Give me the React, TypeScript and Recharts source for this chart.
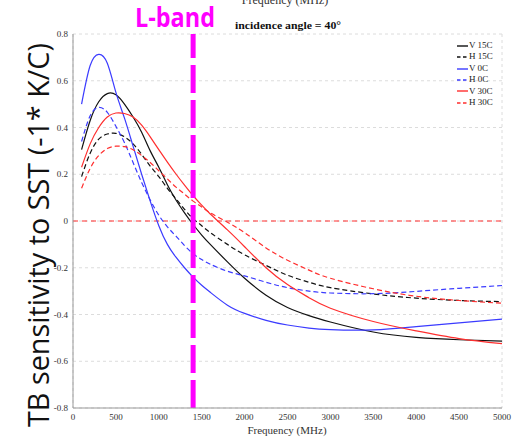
import React from 'react';
import { LineChart, Line, XAxis, YAxis, CartesianGrid, ReferenceLine } from 'recharts';

// Frequency (MHz)
const freq = [100, 200, 300, 400, 500, 600, 700, 800, 900, 1000, 1100, 1200, 1300, 1400, 1500, 1600, 1800, 2000, 2250, 2500, 2750, 3000, 3500, 4000, 4500, 5000];
// V pol 15C
const v15 = [0.305, 0.43, 0.51, 0.545, 0.54, 0.5, 0.445, 0.38, 0.3, 0.23, 0.155, 0.09, 0.035, -0.015, -0.06, -0.1, -0.175, -0.245, -0.318, -0.37, -0.405, -0.432, -0.475, -0.498, -0.508, -0.514];
// H pol 15C
const h15 = [0.19, 0.29, 0.35, 0.372, 0.375, 0.36, 0.33, 0.285, 0.235, 0.19, 0.14, 0.095, 0.05, 0.01, -0.02, -0.05, -0.1, -0.145, -0.19, -0.232, -0.262, -0.285, -0.312, -0.33, -0.34, -0.345];
// V pol 0C
const v0 = [0.5, 0.665, 0.713, 0.675, 0.55, 0.44, 0.32, 0.2, 0.085, -0.02, -0.1, -0.155, -0.2, -0.24, -0.275, -0.305, -0.36, -0.395, -0.425, -0.445, -0.458, -0.465, -0.466, -0.452, -0.436, -0.42];
// H pol 0C
const h0 = [0.34, 0.45, 0.486, 0.465, 0.405, 0.335, 0.25, 0.165, 0.09, 0.025, -0.025, -0.065, -0.105, -0.14, -0.165, -0.185, -0.215, -0.235, -0.262, -0.285, -0.3, -0.308, -0.311, -0.301, -0.288, -0.276];
// V pol 30C
const v30 = [0.23, 0.33, 0.4, 0.445, 0.462, 0.46, 0.445, 0.41, 0.36, 0.305, 0.252, 0.201, 0.153, 0.108, 0.068, 0.03, -0.038, -0.11, -0.2, -0.272, -0.328, -0.373, -0.43, -0.47, -0.503, -0.525];
// H pol 30C
const h30 = [0.14, 0.225, 0.28, 0.31, 0.32, 0.318, 0.305, 0.28, 0.25, 0.215, 0.18, 0.145, 0.115, 0.085, 0.06, 0.035, -0.005, -0.05, -0.115, -0.168, -0.21, -0.245, -0.29, -0.322, -0.34, -0.352];

const xTicks = [0, 500, 1000, 1500, 2000, 2500, 3000, 3500, 4000, 4500, 5000];
const yTicks = [-0.8, -0.6, -0.4, -0.2, 0, 0.2, 0.4, 0.6, 0.8];
const xMinorTicks = Array.from({ length: 51 }, (_, i) => i * 100);
const yMinorTicks = Array.from({ length: 33 }, (_, i) => Math.round((-0.8 + i * 0.05) * 100) / 100);
const lBandFreq = 1400;

const BLACK = '#111111';
const BLUE = '#3b3bff';
const RED = '#ff2e2e';

const series = [
  { key: 'v15', name: 'V 15C', color: BLACK, dash: undefined as string | undefined },
  { key: 'h15', name: 'H 15C', color: BLACK, dash: '5 3' },
  { key: 'v0', name: 'V 0C', color: BLUE, dash: undefined },
  { key: 'h0', name: 'H 0C', color: BLUE, dash: '5 3' },
  { key: 'v30', name: 'V 30C', color: RED, dash: undefined },
  { key: 'h30', name: 'H 30C', color: RED, dash: '5 3' },
];

const data = freq.map((f, i) => ({ f, v15: v15[i], h15: h15[i], v0: v0[i], h0: h0[i], v30: v30[i], h30: h30[i] }));

const SERIF = '"Liberation Serif", "Times New Roman", serif';
const tickStyle = { fontFamily: SERIF, fontSize: 9, fill: '#333' };

const LegendBox = () => (
  <div style={{ position: 'absolute', left: 457, top: 40, fontFamily: SERIF, fontSize: 9, lineHeight: '11.4px', color: '#222', pointerEvents: 'none' }}>
    {series.map((s) => (
      <div key={s.key} style={{ display: 'flex', alignItems: 'center', whiteSpace: 'nowrap' }}>
        <svg width={11} height={6} style={{ marginRight: 1 }}>
          <line x1={0} y1={3} x2={11} y2={3} stroke={s.color} strokeWidth={1.4} strokeDasharray={s.dash ? '3.5 2.5' : undefined} />
        </svg>
        <span>{s.name}</span>
      </div>
    ))}
  </div>
);

export default function App() {
  return (
    <div style={{ position: 'absolute', left: 0, top: 0, width: 512, height: 439, background: '#fff' }}>
      <LineChart width={512} height={439} data={data} margin={{ top: 34, right: 10, left: 0, bottom: 0 }}>
        <CartesianGrid xAxisId="mb" yAxisId={0} stroke="#dcdcdc" strokeDasharray="3 3" />
        <XAxis xAxisId="mb" type="number" dataKey="f" domain={[0, 5000]} allowDataOverflow ticks={xMinorTicks} orientation="bottom" mirror height={0} tick={false} axisLine={false} tickSize={3} tickLine={{ stroke: '#999' }} />
        <XAxis xAxisId="mt" type="number" dataKey="f" domain={[0, 5000]} allowDataOverflow ticks={xMinorTicks} orientation="top" mirror height={0} tick={false} axisLine={{ stroke: '#999' }} tickSize={3} tickLine={{ stroke: '#999' }} />
        <YAxis yAxisId="ml" type="number" domain={[-0.8, 0.8]} allowDataOverflow ticks={yMinorTicks} orientation="left" mirror width={0} tick={false} axisLine={false} tickSize={3} tickLine={{ stroke: '#999' }} />
        <YAxis yAxisId="mr" type="number" domain={[-0.8, 0.8]} allowDataOverflow ticks={yMinorTicks} orientation="right" mirror width={0} tick={false} axisLine={{ stroke: '#999' }} tickSize={3} tickLine={{ stroke: '#999' }} />
        <XAxis type="number" dataKey="f" domain={[0, 5000]} allowDataOverflow ticks={xTicks} height={31} tick={tickStyle} tickLine={false} tickSize={3} tickMargin={3} axisLine={{ stroke: '#999' }} />
        <YAxis type="number" domain={[-0.8, 0.8]} allowDataOverflow ticks={yTicks} width={73} tick={tickStyle} tickLine={false} tickSize={3} tickMargin={2} axisLine={{ stroke: '#999' }} tickFormatter={(v: number) => String(Math.round(v * 10) / 10)} />
        <ReferenceLine y={0} stroke={RED} strokeWidth={1.2} strokeDasharray="5 4" />
        {series.map((s) => (
          <Line key={s.key} type="natural" dataKey={s.key} name={s.name} stroke={s.color} strokeWidth={1.2} strokeDasharray={s.dash} dot={false} isAnimationActive={false} />
        ))}
        <ReferenceLine x={lBandFreq} stroke="#ff00ff" strokeWidth={5} strokeDasharray="28 7" />
      </LineChart>
      <LegendBox />
      <svg width={512} height={439} style={{ position: 'absolute', left: 0, top: 0, pointerEvents: 'none' }}>
        <text x={285} y={4} textAnchor="middle" fontFamily={SERIF} fontSize={12} fill="#333">Frequency (MHz)</text>
        <text x={135} y={27} fontFamily='"Open Sans", sans-serif' fontWeight="bold" fontSize={26} fill="#ff00ff" textLength={80} lengthAdjust="spacingAndGlyphs">L-band</text>
        <text x={235} y={29} fontFamily={SERIF} fontWeight="bold" fontSize={10.5} fill="#111" textLength={106} lengthAdjust="spacingAndGlyphs">incidence angle = 40°</text>
        <text transform="translate(49,235) rotate(-90)" textAnchor="middle" fontFamily='"Open Sans", sans-serif' fontSize={30} fill="#111" textLength={384} lengthAdjust="spacingAndGlyphs">TB sensitivity to SST (-1* K/C)</text>
        <text x={287} y={434} textAnchor="middle" fontFamily={SERIF} fontSize={11} fill="#333">Frequency (MHz)</text>
      </svg>
    </div>
  );
}
